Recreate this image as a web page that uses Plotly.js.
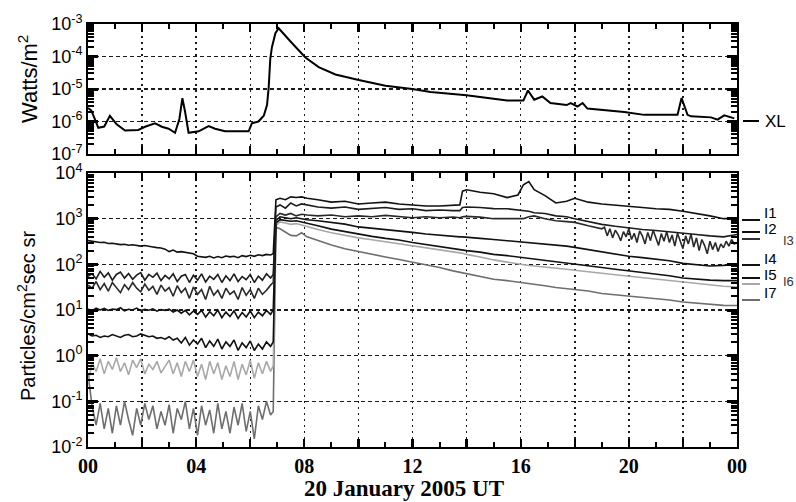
<!DOCTYPE html>
<html>
<head>
<meta charset="utf-8">
<script src="https://cdn.plot.ly/plotly-3.0.1.min.js"></script>
<style>
  html, body { margin: 0; padding: 0; background: #fff; }
  #chart { width: 796px; height: 502px; }
</style>
</head>
<body>
<div id="chart"></div>
<script>
// ---------------- DATA ----------------
// X-ray flux (top panel), hours UT on 20 January 2005
const xlHours = [0.00, 0.12, 0.25, 0.38, 0.60, 0.81, 1.06, 1.37, 1.86, 2.11, 2.48, 2.73, 2.98, 3.22, 3.38, 3.49, 3.59, 3.72, 4.09, 4.46, 4.70, 5.07, 5.94, 6.06, 6.30, 6.50, 6.62, 6.68, 6.74, 6.80, 6.93, 7.05, 7.54, 8.04, 8.53, 9.15, 10.01, 11.00, 11.99, 12.67, 14.00, 15.50, 16.10, 16.27, 16.50, 16.80, 17.10, 17.70, 17.85, 18.10, 18.29, 18.47, 19.83, 20.57, 21.80, 21.95, 22.17, 22.30, 23.04, 23.28, 23.53, 23.90];
const xlFlux = [2.6e-6, 2.2e-6, 1.2e-6, 6.4e-7, 7.0e-7, 1.5e-6, 8.2e-7, 5.3e-7, 5.5e-7, 6.9e-7, 8.8e-7, 6.9e-7, 6.0e-7, 4.5e-7, 1.2e-6, 5.2e-6, 2.0e-6, 4.5e-7, 5.0e-7, 7.2e-7, 6.0e-7, 5.0e-7, 5.0e-7, 8.8e-7, 1.0e-6, 1.5e-6, 3.2e-6, 1.07e-5, 8.3e-5, 1.9e-4, 5.2e-4, 7.4e-4, 2.6e-4, 9.3e-5, 4.7e-5, 2.8e-5, 1.9e-5, 1.26e-5, 1.0e-5, 8.1e-6, 6.4e-6, 4.4e-6, 4.4e-6, 9.0e-6, 4.7e-6, 5.9e-6, 3.7e-6, 3.2e-6, 3.7e-6, 2.9e-6, 3.7e-6, 2.5e-6, 1.95e-6, 1.6e-6, 1.6e-6, 5.3e-6, 1.6e-6, 1.44e-6, 1.34e-6, 1.14e-6, 1.55e-6, 1.25e-6];

// Particle flux channels (bottom panel)
const preHours = [0.00, 0.15, 0.30, 0.45, 0.60, 0.75, 0.90, 1.05, 1.20, 1.35, 1.50, 1.65, 1.80, 1.95, 2.10, 2.25, 2.40, 2.55, 2.70, 2.85, 3.00, 3.15, 3.30, 3.45, 3.60, 3.75, 3.90, 4.05, 4.20, 4.35, 4.50, 4.65, 4.80, 4.95, 5.10, 5.25, 5.40, 5.55, 5.70, 5.85, 6.00, 6.15, 6.30, 6.45, 6.60, 6.75];
const postHours = [6.85, 6.95, 7.10, 7.30, 7.50, 7.70, 7.90, 8.10, 8.50, 9.00, 9.50, 10.00, 10.50, 11.00, 11.50, 12.00, 12.50, 13.00, 13.50, 13.75, 13.85, 14.00, 14.50, 15.00, 15.50, 15.90, 16.10, 16.30, 16.50, 16.90, 17.30, 17.70, 18.00, 18.50, 19.00, 19.50, 20.00, 20.50, 21.00, 21.50, 22.00, 22.50, 23.00, 23.50, 24.00];

const i1Pre = [330, 320, 310, 300, 305, 285, 290, 280, 270, 275, 262, 268, 255, 250, 258, 245, 240, 232, 228, 215, 190, 205, 185, 190, 182, 178, 170, 150, 145, 142, 150, 138, 148, 140, 152, 146, 150, 140, 155, 148, 158, 150, 162, 155, 165, 160];
const i1Post = [170, 2600, 2800, 2600, 3000, 2900, 3000, 2800, 2600, 2300, 2400, 2100, 2200, 2300, 2100, 2000, 1900, 1900, 2000, 2000, 4000, 4300, 3800, 3500, 2900, 3300, 5500, 6500, 4300, 3200, 2200, 2400, 2800, 2300, 2100, 2000, 1850, 1750, 1650, 1600, 1450, 1300, 1150, 1000, 1000];

const i2Pre = [55, 62, 48, 70, 52, 65, 45, 60, 68, 50, 63, 47, 58, 66, 45, 60, 52, 64, 44, 57, 48, 62, 42, 55, 60, 40, 58, 45, 62, 41, 55, 47, 60, 40, 56, 44, 62, 42, 54, 46, 60, 40, 55, 45, 62, 50];
const i2Post = [60, 1800, 2000, 1700, 2200, 1900, 2100, 2000, 1800, 1700, 1800, 1600, 1700, 1750, 1600, 1650, 1500, 1550, 1500, 1500, 1750, 1800, 1750, 1660, 1650, 1550, 1520, 1450, 1350, 1300, 1150, 1100, 1000, 850, 750, 680, 620, 580, 550, 520, 480, 450, 420, 400, 450];

const i3Pre = [35, 30, 42, 28, 38, 26, 40, 31, 24, 36, 28, 40, 30, 25, 37, 27, 33, 22, 35, 26, 31, 20, 34, 24, 30, 18, 32, 22, 28, 17, 33, 21, 27, 18, 30, 22, 26, 17, 31, 21, 28, 18, 30, 22, 27, 35];
const i3PostHours = [6.85, 6.95, 7.10, 7.30, 7.50, 7.70, 7.90, 8.10, 8.50, 9.00, 9.50, 10.00, 10.50, 11.00, 11.50, 12.00, 12.50, 13.00, 13.50, 13.75, 13.85, 14.00, 14.50, 15.00, 15.50, 15.90, 16.10, 16.30, 16.50, 16.90, 17.30, 17.70, 18.00, 18.50, 19.00, 19.10, 19.20, 19.30, 19.40, 19.50, 19.60, 19.70, 19.80, 19.90, 20.00, 20.10, 20.20, 20.30, 20.40, 20.50, 20.60, 20.70, 20.80, 20.90, 21.00, 21.10, 21.20, 21.30, 21.40, 21.50, 21.60, 21.70, 21.80, 21.90, 22.00, 22.10, 22.20, 22.30, 22.40, 22.50, 22.60, 22.70, 22.80, 22.90, 23.00, 23.10, 23.20, 23.30, 23.40, 23.50, 23.60, 23.70, 23.80, 23.90, 24.00];
const i3Post = [40, 1100, 1300, 1200, 1300, 1150, 1250, 1200, 1150, 1200, 1100, 1150, 1100, 1180, 1100, 1050, 1100, 1050, 1090, 1050, 1100, 1120, 1080, 1000, 1000, 980, 1000, 1100, 1150, 1000, 900, 860, 830, 700, 600, 650, 420, 600, 380, 560, 450, 330, 520, 400, 600, 350, 480, 300, 540, 420, 280, 500, 330, 560, 380, 260, 470, 320, 520, 300, 440, 250, 480, 330, 220, 420, 280, 460, 240, 380, 200, 350, 260, 170, 320, 210, 300, 190, 280, 230, 320, 250, 350, 280, 300];

const i4Pre = [10.5, 9.5, 11, 10, 10.8, 9.8, 10.5, 10.2, 11.2, 9.6, 10.4, 10, 11, 9.7, 10.3, 9.9, 10.6, 9.4, 10.2, 9.8, 10.4, 9, 10, 8.5, 9.8, 7.8, 9.5, 8, 9.8, 7, 9.2, 7.5, 10, 6.8, 9, 7.2, 9.6, 6.5, 8.8, 7, 9.5, 6.8, 9, 7.5, 9.8, 8];
const i4Post = [10, 900, 1100, 1050, 1000, 1050, 1000, 950, 900, 820, 760, 660, 620, 580, 550, 500, 460, 430, 410, 400, 400, 390, 370, 350, 330, 315, 305, 300, 295, 280, 265, 250, 235, 210, 185, 165, 150, 140, 130, 120, 105, 100, 92, 95, 100];

const i5Pre = [3.0, 2.7, 2.8, 2.5, 2.7, 2.6, 2.9, 2.7, 2.5, 2.8, 2.9, 2.6, 2.7, 3.0, 2.8, 2.6, 2.7, 2.4, 2.5, 2.3, 2.6, 2.2, 2.4, 1.9, 2.5, 1.7, 2.2, 1.8, 2.4, 1.5, 2.1, 1.6, 2.3, 1.4, 2.0, 1.6, 2.2, 1.3, 1.9, 1.5, 2.1, 1.3, 1.8, 1.4, 2.0, 1.6];
const i5Post = [2, 800, 950, 900, 880, 900, 850, 800, 700, 590, 520, 455, 410, 370, 340, 300, 270, 245, 220, 210, 205, 200, 185, 165, 155, 145, 140, 135, 132, 125, 115, 108, 102, 93, 85, 78, 72, 66, 61, 56, 50, 47, 45, 44, 44];

const i6Pre = [0.25, 0.7, 0.45, 0.85, 0.4, 0.75, 0.5, 0.9, 0.45, 0.7, 0.38, 0.8, 0.55, 0.85, 0.4, 0.65, 0.5, 0.75, 0.42, 0.6, 0.8, 0.4, 0.7, 0.35, 0.75, 0.45, 0.8, 0.35, 0.65, 0.3, 0.75, 0.4, 0.7, 0.3, 0.6, 0.35, 0.75, 0.3, 0.65, 0.38, 0.8, 0.32, 0.7, 0.4, 0.75, 0.45];
const i6Post = [0.6, 700, 850, 800, 750, 780, 720, 680, 580, 490, 430, 380, 345, 310, 280, 250, 225, 205, 185, 178, 175, 165, 145, 125, 112, 102, 97, 94, 92, 88, 84, 78, 74, 70, 64, 59, 55, 51, 48, 44, 41, 38, 35, 33, 32];

const i7Pre = [0.4, 0.08, 0.03, 0.09, 0.025, 0.07, 0.02, 0.08, 0.03, 0.1, 0.04, 0.018, 0.07, 0.03, 0.09, 0.04, 0.08, 0.025, 0.06, 0.03, 0.085, 0.02, 0.07, 0.04, 0.1, 0.025, 0.07, 0.018, 0.08, 0.03, 0.065, 0.02, 0.09, 0.025, 0.06, 0.02, 0.075, 0.03, 0.09, 0.022, 0.06, 0.015, 0.08, 0.04, 0.1, 0.05];
const i7Post = [0.06, 650, 600, 500, 430, 420, 490, 400, 330, 265, 220, 190, 165, 145, 128, 112, 95, 85, 72, 67, 66, 62, 55, 47, 44, 41, 40, 38, 37, 34, 31, 29, 28, 26, 23, 21.5, 20.5, 19, 17.5, 16.5, 15, 14, 13.2, 12.6, 12.5];

// Axis tick positions / labels
const gridHours = [0, 2, 4, 6, 8, 10, 12, 14, 16, 18, 20, 22, 24];
const hourLabels = ['00', '', '04', '', '08', '', '12', '', '16', '', '20', '', '00'];
const oddHours = [1, 3, 5, 7, 9, 11, 13, 15, 17, 19, 21, 23];
const fluxTicksTop = [1e-7, 1e-6, 1e-5, 1e-4, 1e-3];
const fluxLabelsTop = ['10<sup>-7</sup>', '10<sup>-6</sup>', '10<sup>-5</sup>', '10<sup>-4</sup>', '10<sup>-3</sup>'];
const fluxTicksBot = [1e-2, 1e-1, 1e0, 1e1, 1e2, 1e3, 1e4];
const fluxLabelsBot = ['10<sup>-2</sup>', '10<sup>-1</sup>', '10<sup>0</sup>', '10<sup>1</sup>', '10<sup>2</sup>', '10<sup>3</sup>', '10<sup>4</sup>'];

// ---------------- CHART ----------------
function minorLog(lo, hi) {
  const v = [];
  for (let e = lo; e < hi; e++) for (let m = 2; m <= 9; m++) v.push(m * Math.pow(10, e));
  return v;
}

const dark = '#111111';
const channels = [
  {x: preHours.concat(postHours), y: i7Pre.concat(i7Post), color: '#6e6e6e'},
  {x: preHours.concat(postHours), y: i6Pre.concat(i6Post), color: '#a8a8a8'},
  {x: preHours.concat(postHours), y: i5Pre.concat(i5Post), color: dark},
  {x: preHours.concat(postHours), y: i4Pre.concat(i4Post), color: dark},
  {x: preHours.concat(i3PostHours), y: i3Pre.concat(i3Post), color: '#2a2a2a'},
  {x: preHours.concat(postHours), y: i2Pre.concat(i2Post), color: '#1c1c1c'},
  {x: preHours.concat(postHours), y: i1Pre.concat(i1Post), color: dark}
];

const traces = [{
  x: xlHours, y: xlFlux, xaxis: 'x2', yaxis: 'y2', type: 'scatter', mode: 'lines',
  line: {color: '#000', width: 2}, hoverinfo: 'skip'
}];
channels.forEach(c => traces.push({
  x: c.x, y: c.y, xaxis: 'x', yaxis: 'y', type: 'scatter', mode: 'lines',
  line: {color: c.color, width: 1.6}, hoverinfo: 'skip'
}));

function xAxis(anchor, showLabels) {
  return {
    domain: [0, 1], range: [0, 24], anchor: anchor,
    tickmode: 'array', tickvals: gridHours, ticktext: hourLabels,
    showticklabels: showLabels,
    ticks: 'inside', ticklen: 8, tickwidth: 2.2, tickcolor: '#000',
    tickfont: {family: 'Liberation Serif, Times New Roman, serif', size: 20, weight: 'bold', color: '#000'},
    showgrid: true, gridcolor: '#1a1a1a', gridwidth: 1.5, griddash: '2px,4px',
    minor: {tickmode: 'array', tickvals: oddHours, ticks: 'inside', ticklen: 5, tickwidth: 2, tickcolor: '#000', showgrid: false},
    showline: true, linecolor: '#000', linewidth: 2, mirror: 'allticks', zeroline: false
  };
}
function yAxis(anchor, domain, range, vals, labels, lo, hi) {
  return {
    domain: domain, type: 'log', range: range, anchor: anchor,
    tickmode: 'array', tickvals: vals, ticktext: labels,
    ticks: 'inside', ticklen: 10, tickwidth: 3, tickcolor: '#000',
    tickfont: {family: 'Liberation Sans, Arial, sans-serif', size: 18, color: '#000'},
    showgrid: true, gridcolor: '#1a1a1a', gridwidth: 1.5, griddash: '4px,3px',
    minor: {tickmode: 'array', tickvals: minorLog(lo, hi), ticks: 'inside', ticklen: 6, tickwidth: 2, tickcolor: '#000', showgrid: false},
    showline: true, linecolor: '#000', linewidth: 2, mirror: 'allticks', zeroline: false
  };
}

const W = 649, H = 423, L = 88, B = 447;
const px = v => (v - L) / W;
const py = v => (B - v) / H;

const seg = (x0, x1, y, color) => ({type: 'line', xref: 'paper', yref: 'paper',
  x0: px(x0), x1: px(x1), y0: py(y), y1: py(y), line: {color: color, width: 2}});
const lab = (x, y, text, size, color) => ({xref: 'paper', yref: 'paper', x: px(x), y: py(y),
  xanchor: 'left', yanchor: 'middle', showarrow: false, text: text,
  font: {family: 'Liberation Sans, Arial, sans-serif', size: size, color: color}});

const layout = {
  width: 796, height: 502,
  margin: {l: L, r: 796 - L - W, t: 24, b: 502 - B},
  paper_bgcolor: '#ffffff', plot_bgcolor: '#ffffff',
  showlegend: false,
  font: {family: 'Liberation Sans, Arial, sans-serif', color: '#000'},
  xaxis: xAxis('y', true),
  xaxis2: xAxis('y2', false),
  yaxis: yAxis('x', [0, py(173)], [-2, 4], fluxTicksBot, fluxLabelsBot, -2, 4),
  yaxis2: yAxis('x2', [py(154), 1], [-7, -3], fluxTicksTop, fluxLabelsTop, -7, -3),
  shapes: [
    seg(743, 759, 121, '#000'),
    seg(742, 760, 220, '#111'),
    seg(742, 760, 232, '#111'),
    seg(742, 760, 239, '#333'),
    seg(742, 760, 265, '#111'),
    seg(742, 760, 278, '#111'),
    seg(742, 760, 284, '#a8a8a8'),
    seg(742, 760, 300, '#6e6e6e')
  ],
  annotations: [
    lab(763, 121, 'XL', 17, '#000'),
    lab(762, 212, 'I1', 15, '#000'),
    lab(762, 228, 'I2', 15, '#000'),
    lab(781, 241, 'I3', 13, '#333'),
    lab(762, 258, 'I4', 15, '#000'),
    lab(762, 274, 'I5', 15, '#000'),
    lab(781, 281, 'I6', 13, '#333'),
    lab(762, 292, 'I7', 15, '#000'),
    {xref: 'paper', yref: 'paper', x: px(28), y: py(79), textangle: -90, showarrow: false,
     xanchor: 'center', yanchor: 'middle', text: 'Watts/m<sup>2</sup>',
     font: {family: 'Liberation Sans, Arial, sans-serif', size: 22, color: '#000'}},
    {xref: 'paper', yref: 'paper', x: px(26), y: py(316), textangle: -90, showarrow: false,
     xanchor: 'center', yanchor: 'middle', text: 'Particles/cm<sup>2</sup>sec sr',
     font: {family: 'Liberation Sans, Arial, sans-serif', size: 20, color: '#000'}},
    {xref: 'paper', yref: 'paper', x: px(404), y: py(489), showarrow: false,
     xanchor: 'center', yanchor: 'middle', text: '<b>20 January 2005 UT</b>',
     font: {family: 'Liberation Serif, Times New Roman, serif', size: 23, color: '#000'}}
  ]
};

Plotly.newPlot('chart', traces, layout, {staticPlot: true, displayModeBar: false});
</script>
</body>
</html>
